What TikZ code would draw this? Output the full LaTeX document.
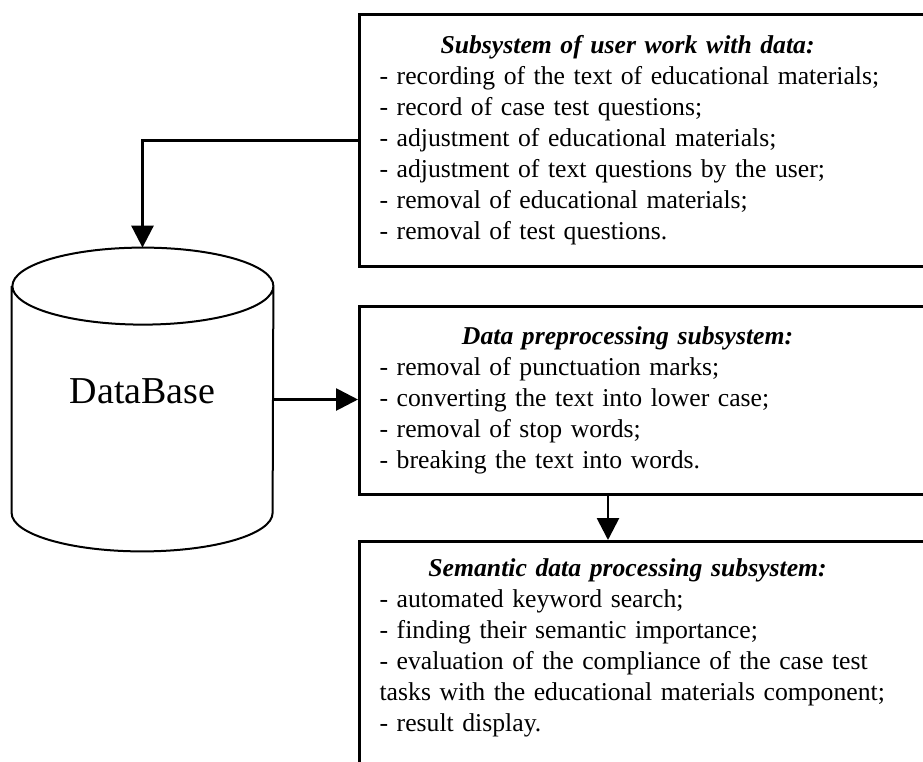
\documentclass[tikz,border=0pt]{standalone}
\usepackage{fontspec}
\setmainfont{Liberation Serif}
\usepackage{tikz}
\usetikzlibrary{arrows.meta, positioning, calc}
\tikzset{
  block_font/.style = {font=\fontsize{12.85}{15.5}\selectfont},
  db_font/.style = {font=\fontsize{19}{22}\selectfont},
  full_size/.style = {text width=270pt}
}
\tikzset{
  block/.style = {block_font, full_size, align=left, draw, line width=1.6pt, inner xsep=10pt, inner ysep=8.5pt, anchor=north west},
  base/.style = {db_font, minimum width=130.5pt, minimum height=151.5pt, text depth=8.5pt},
  base_line/.style = {line width=1pt},
  rim/.style = {x radius=65.25pt, y radius=19.25pt},
  arrow/.style = {line width=1.4pt, -{Triangle[width=11pt, length=11pt]}}
}
\newcommand{\blocktitle}[1]{\makebox[248pt][c]{\bfseries\itshape #1}}

\begin{document}
\begin{tikzpicture}[x=0.5pt, y=-0.5pt]
        \useasboundingbox (0,0) rectangle (923,762);
        \clip (0,0) rectangle (923,762);

        % Database
        \node[base] at (142.5,399.5) (db) {DataBase};
        \draw[base_line] ([yshift=-19.25pt]db.north west) -- ([yshift=19.25pt]db.south west)
            arc[rim, start angle=180, end angle=360] -- ([yshift=-19.25pt]db.north east)
            arc[rim, start angle=0, end angle=180] arc[rim, start angle=180, end angle=360];

        % Subsystems
        \node[block, minimum height=126pt] at (358,13) (user) {
            \blocktitle{Subsystem of user work with data:} \\
            - recording of the text of educational materials; \\
            - record of case test questions; \\
            - adjustment of educational materials; \\
            - adjustment of text questions by the user; \\
            - removal of educational materials; \\
            - removal of test questions.
            };
        \node[block, minimum height=94pt] at (358,305) (prep) {
            \blocktitle{Data preprocessing subsystem:} \\
            - removal of punctuation marks; \\
            - converting the text into lower case; \\
            - removal of stop words; \\
            - breaking the text into words.
            };
        \node[block] at (358,540) (sem) {
            \blocktitle{Semantic data processing subsystem:} \\
            - automated keyword search; \\
            - finding their semantic importance; \\
            - evaluation of the compliance of the case test \\
            tasks with the educational materials component; \\
            - result display. \\
            \mbox{}
            };

        % Arrows and lines
        \coordinate (prep_out) at ([xshift=125pt]prep.south west);
        \draw[arrow] (user.west) -| (db.north);
        \draw[arrow] (db.east) -- (db.east -| prep.west);
        \draw[arrow] (prep_out) -- (prep_out |- sem.north);
    \end{tikzpicture}
\end{document}
